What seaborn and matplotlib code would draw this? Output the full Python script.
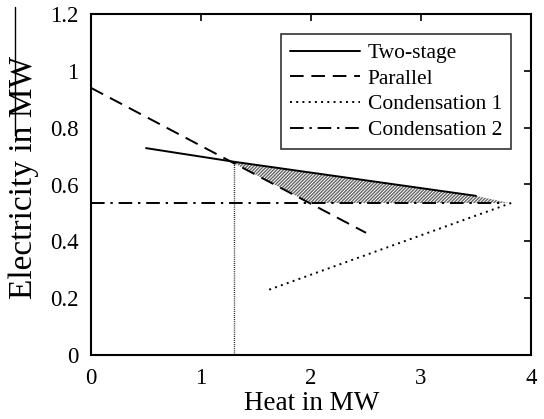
import numpy as np
import pandas as pd
import matplotlib
matplotlib.use("Agg")
import matplotlib.pyplot as plt
from matplotlib.lines import Line2D
import seaborn as sns

# ---- data ----
two_stage_x = [0.5, 1.3, 3.5]
two_stage_y = [0.728, 0.68, 0.56]
parallel_x = [0.0, 2.5]
parallel_y = [0.94, 0.43]
cond1_x = [1.62, 3.82]
cond1_y = [0.23, 0.535]
cond2_x = [0.0, 3.72]
cond2_y = [0.535, 0.535]
vline_x = [1.3, 1.3]
vline_y = [0.0, 0.68]
shade_top_x = [1.3, 3.5, 3.8]
shade_top_y = [0.68, 0.56, 0.535]

xticks = [0, 1, 2, 3, 4]
xticklabels = ["0", "1", "2", "3", "4"]
yticks = [0, 0.2, 0.4, 0.6, 0.8, 1.0, 1.2]
yticklabels = ["0", "0.2", "0.4", "0.6", "0.8", "1", "1.2"]

sns.set_theme(style="white")
plt.rcParams["font.family"] = ["Liberation Serif", "DejaVu Serif"]

fig = plt.figure(figsize=(5.44, 4.19), dpi=100)
ax = fig.add_axes([91 / 544, 1 - 355 / 419, 440 / 544, 341 / 419])

# shaded region
xs = np.linspace(shade_top_x[0], shade_top_x[-1], 200)
top = np.interp(xs, shade_top_x, shade_top_y)
bottom = np.maximum(np.interp(xs, parallel_x, parallel_y), cond2_y[0])
bottom = np.minimum(bottom, top)
ax.fill_between(xs, bottom, top, facecolor="none", edgecolor="#666666",
                hatch="//////////", linewidth=0)

series = [
    ("Two-stage", two_stage_x, two_stage_y, "-"),
    ("Parallel", parallel_x, parallel_y, (0, (7, 4))),
    ("Condensation 1", cond1_x, cond1_y, (0, (1, 2.2))),
    ("Condensation 2", cond2_x, cond2_y, (0, (7, 3, 1.2, 3))),
]
for name, x, y, ls in series:
    df = pd.DataFrame({"x": x, "y": y})
    sns.lineplot(data=df, x="x", y="y", ax=ax, color="black", linestyle=ls,
                 linewidth=1.4, label=name, sort=False, estimator=None)

sns.lineplot(x=vline_x, y=vline_y, ax=ax, color="black", linestyle=(0, (0.6, 0.9)),
             linewidth=1.0, sort=False, estimator=None, legend=False)

ax.set_xlim(0, 4)
ax.set_ylim(0, 1.2)
ax.set_xticks(xticks)
ax.set_xticklabels(xticklabels)
ax.set_yticks(yticks)
ax.set_yticklabels(yticklabels)
ax.tick_params(direction="in", length=5, width=1.2, top=True, right=True,
               labelsize=16.5, colors="black")
ax.tick_params(axis="x", pad=9)
ax.tick_params(axis="y", pad=9)
for s in ax.spines.values():
    s.set_visible(True)
    s.set_color("black")
    s.set_linewidth(1.5)

ax.set_xlabel("Heat in MW", fontsize=19.5, color="black")
ax.set_ylabel("Electricity in MW", fontsize=24, color="black")
ax.xaxis.set_label_coords(0.502, -0.105)
ax.yaxis.set_label_coords(-0.118, 0.52)

leg = ax.legend(loc="upper left", bbox_to_anchor=(190 / 440, 1 - 20 / 341),
                fontsize=15.5, handlelength=3.25, handletextpad=0.35,
                labelspacing=0.26, borderpad=0.42, borderaxespad=0,
                frameon=True, fancybox=False, edgecolor="black")
leg.get_frame().set_linewidth(1.2)
for t in leg.get_texts():
    t.set_color("black")

# thin vertical line at the left edge of the reference image
fig.add_artist(Line2D([15 / 544, 15 / 544], [1 - 7 / 419, 1 - 135 / 419],
                      color="black", linewidth=1.0, transform=fig.transFigure))

fig.savefig("out.png", dpi=100)
